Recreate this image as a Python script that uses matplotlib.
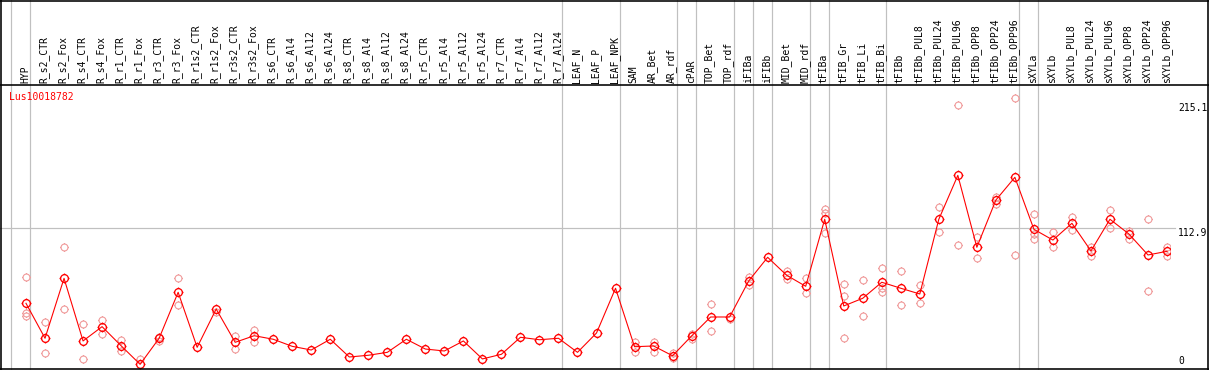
import numpy as np
import matplotlib
matplotlib.use("Agg")
import matplotlib.pyplot as plt
from matplotlib.path import Path
from matplotlib.lines import Line2D

GENE = "Lus10018782"

SAMPLES = [
    "HYP",
    "R_s2_CTR", "R_s2_Fox", "R_s4_CTR", "R_s4_Fox", "R_r1_CTR", "R_r1_Fox",
    "R_r3_CTR", "R_r3_Fox", "R_r1s2_CTR", "R_r1s2_Fox", "R_r3s2_CTR", "R_r3s2_Fox",
    "R_s6_CTR", "R_s6_Al4", "R_s6_Al12", "R_s6_Al24",
    "R_s8_CTR", "R_s8_Al4", "R_s8_Al12", "R_s8_Al24",
    "R_r5_CTR", "R_r5_Al4", "R_r5_Al12", "R_r5_Al24",
    "R_r7_CTR", "R_r7_Al4", "R_r7_Al12", "R_r7_Al24",
    "LEAF_N", "LEAF_P", "LEAF_NPK",
    "SAM", "AR_Bet", "AR_rdf", "cPAR", "TOP_Bet", "TOP_rdf", "iFIBa", "iFIBb",
    "MID_Bet", "MID_rdf", "tFIBa", "tFIB_Gr", "tFIB_Li", "tFIB_Bi", "tFIBb",
    "tFIBb_PUL8", "tFIBb_PUL24", "tFIBb_PUL96", "tFIBb_OPP8", "tFIBb_OPP24", "tFIBb_OPP96",
    "sXYLa", "sXYLb",
    "sXYLb_PUL8", "sXYLb_PUL24", "sXYLb_PUL96", "sXYLb_OPP8", "sXYLb_OPP24", "sXYLb_OPP96",
]

# mean expression per sample
MEANS = [
    51.6,
    23.0, 72.0, 20.8, 32.5, 16.9, 1.7,
    23.0, 60.6, 15.6, 46.9, 19.7, 25.1,
    22.2, 16.4, 13.4, 22.2,
    7.7, 9.1, 11.5, 22.2,
    14.2, 12.6, 20.8, 6.1,
    9.9, 23.8, 21.8, 23.0,
    11.5, 27.3, 63.9,
    16.1, 16.7, 8.7, 24.9, 40.4, 40.4, 69.8, 89.2,
    74.5, 65.5, 120.3, 49.4, 55.7, 68.8, 63.9,
    59.2, 120.3, 156.2, 97.4, 136.0, 154.6,
    112.1, 103.3,
    117.0, 94.4, 120.3, 108.2, 91.1, 94.1,
]

# individual replicates (only those visible apart from the mean)
REPLICATES = [
    [73.1, 43.3, 41.5],
    [36.1, 10.7], [97.4, 46.7], [34.4, 6.1], [37.9, 26.7], [21.6, 12.8], [6.1],
    [21.0, 24.0], [72.0, 50.0], [], [44.5], [24.9, 14.0], [30.0, 20.2],
    [], [], [], [],
    [], [], [], [],
    [], [], [], [],
    [], [], [], [],
    [], [], [],
    [19.7, 11.8], [19.9, 11.8], [11.2, 6.6], [26.5, 22.6], [50.8, 28.7], [38.5],
    [73.3, 66.3], [],
    [78.0, 71.2], [72.0, 59.8], [128.9, 125.7, 108.8], [67.1, 57.6, 23.0],
    [70.4, 41.2], [80.2, 64.1, 60.6], [78.0, 50.0],
    [66.6, 51.6], [130.1, 110.1], [213.5, 99.0], [105.8, 88.4], [138.3, 132.8],
    [219.2, 90.8],
    [124.4, 108.0, 104.4], [109.6, 97.4],
    [122.1, 111.8], [97.9, 90.5], [127.9, 112.9], [110.9, 104.4], [120.3, 61.6],
    [97.9, 90.5],
]

# last sample of each group (separator drawn after it)
GROUP_ENDS = ["HYP", "R_r7_Al24", "LEAF_NPK", "AR_rdf", "cPAR", "TOP_rdf", "iFIBa",
              "iFIBb", "MID_rdf", "tFIBa", "tFIB_Bi", "tFIBb_OPP96", "sXYLa", "sXYLb_OPP96"]

Y_TICKS = [215.1, 112.9, 0]

W, H = 1209, 370
MONO = "DejaVu Sans Mono"
GRID = "#c0c0c0"
RED = "#ff0000"
PINK = "#f09a9a"


def px(v):
    return v / 100 * 72


def sun_marker():
    circle = Path.unit_circle()
    verts, codes = [], []
    for dx, dy in [(1, 0), (-1, 0), (0, 1), (0, -1)]:
        verts += [(dx * 1.0, dy * 1.0), (dx * 1.3, dy * 1.3)]
        codes += [Path.MOVETO, Path.LINETO]
    ticks = Path(verts, codes)
    return Path.make_compound_path(circle, ticks)


fig = plt.figure(figsize=(W / 100, H / 100), dpi=100)
fig.patch.set_facecolor("white")

# axes covers data region; x in sample index, y in expression
ax = fig.add_axes([0, 0, 1170 / W, 1])
ax.set_xlim(-26 / 19.017, 1144 / 19.017)
ax.set_ylim(-3.6 * 0.8176, 366.4 * 0.8176)
ax.axis("off")

x = np.arange(len(SAMPLES))
marker = sun_marker()

# group separators
for name in GROUP_ENDS:
    ax.axvline(SAMPLES.index(name) + 0.21, color=GRID, lw=px(1.2), zorder=1)
ax.axvline(-1 + 0.21, color=GRID, lw=px(1.2), zorder=1)

# gridline at middle tick
ax.plot([ax.get_xlim()[0], 60.4], [Y_TICKS[1], Y_TICKS[1]], color=GRID,
        lw=px(1.2), clip_on=False, zorder=1)

# replicates
rx = [i for i, reps in enumerate(REPLICATES) for _ in reps]
ry = [v for reps in REPLICATES for v in reps]
ax.plot(rx, ry, ls="none", marker=marker, ms=px(9) * 1.0, mfc="none",
        mec=PINK, mew=px(1.1), zorder=2)

# means
ax.plot(x, MEANS, color=RED, lw=px(1.1), marker=marker, ms=px(10), mfc="none",
        mec=RED, mew=px(1.3), zorder=3)

# column labels
for i, name in enumerate(SAMPLES):
    ax.text(i - 0.05, 1 - 83 / H, name, transform=ax.get_xaxis_transform(),
            rotation=90, ha="center", va="bottom", fontsize=7, family=MONO)

# right axis labels
for v in Y_TICKS:
    ax.text(60.58, v, f"{v:g}", ha="left", va="top" if v > 0 else "bottom",
            fontsize=7, family=MONO, clip_on=False)

fig.text(9 / W, 1 - 97 / H, GENE, color=RED, fontsize=7, family=MONO, va="center")

# frame and header separator
kw = dict(color="black", lw=px(1.6), transform=fig.transFigure)
fig.add_artist(Line2D([0, 1], [1 - 85 / H, 1 - 85 / H], **kw))
fig.add_artist(Line2D([1 / W, 1 / W], [0, 1], **kw))
fig.add_artist(Line2D([1207.5 / W, 1207.5 / W], [0, 1], **kw))
fig.add_artist(Line2D([0, 1], [1 - 0.5 / H, 1 - 0.5 / H], **kw))
fig.add_artist(Line2D([0, 1], [1 - 368.5 / H, 1 - 368.5 / H], **kw))

fig.savefig("out.png", dpi=100)
